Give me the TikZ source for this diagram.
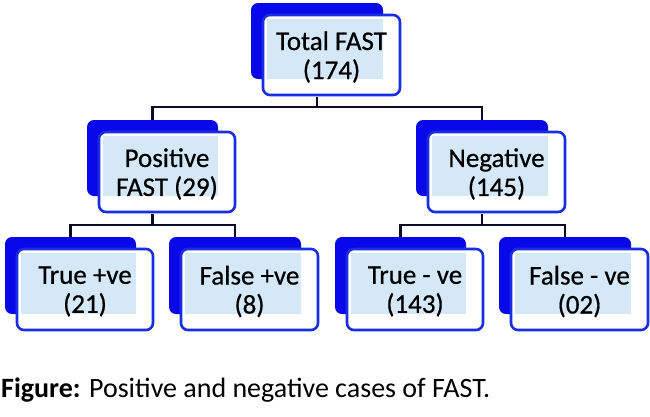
\documentclass[tikz,border=0pt]{standalone}
\usepackage{fontspec}
\usepackage{graphicx}
\setmainfont{Carlito}
\newfontfamily\boxfont{Carlito}[FakeBold=0.6]
\definecolor{backblue}{RGB}{8,8,232}
\definecolor{frontblue}{RGB}{25,45,225}
\definecolor{lightblue}{RGB}{213,232,248}
\definecolor{connblack}{RGB}{12,12,40}
\tikzset{
  backbox/.style={fill=backblue, rounded corners=7pt, draw=none, inner sep=0pt},
  frontframe/.style={fill=white, draw=frontblue, line width=2.6pt, rounded corners=7pt},
  overlap/.style={fill=lightblue},
  boxlabel/.style={font=\boxfont\fontsize{27}{29}\selectfont, align=center, text=black, inner sep=0pt},
  conn/.style={draw=connblack, line width=2.8pt},
}
% #1 name, #2 x1, #3 y1, #4 x2, #5 y2 (front rectangle), #6 text
\newcommand\fastbox[6]{%
  \node[backbox, minimum width={#4-#2-5}, minimum height={#5-#3-4}] (#1b) at ({(#2+#4-29)/2},{(#3+#5-28)/2}) {};
  \draw[frontframe] (#2,#3) rectangle (#4,#5);
  \fill[overlap] ({#2+4},{#3+4}) rectangle ({#4-17},{#5-16});
  \node[boxlabel, minimum width={#4-#2}, minimum height={#5-#3}] (#1) at ({(#2+#4)/2},{(#3+#5)/2+2}) {#6};
}
\begin{document}
\begin{tikzpicture}[x=1pt, y=-1pt]
\useasboundingbox (0,0) rectangle (650,416);
\fastbox{t}{263}{15}{400}{95}{Total FAST\\(174)}
\fastbox{p}{99}{132}{235}{212}{Positive\\FAST (29)}
\fastbox{n}{428}{132}{565}{212}{Negative\\(145)}
\fastbox{tp}{17}{249}{153}{330}{True +ve\\(21)}
\fastbox{fp}{181}{249}{318}{330}{False +ve\\(8)}
\fastbox{tn}{347}{249}{483}{330}{True - ve\\(143)}
\fastbox{fn}{511}{249}{648}{330}{False - ve\\(02)}
\coordinate (bus1) at (0,107);
\coordinate (bus2) at (0,225);
\draw[conn] (tb |- t.south) -- (tb |- bus1) -| (pb.north);
\draw[conn] (tb |- bus1) -| (nb.north);
\draw[conn] (pb |- p.south) -- (pb |- bus2) -| (tpb.north);
\draw[conn] (pb |- bus2) -| (fpb.north);
\draw[conn] (nb |- n.south) -- (nb |- bus2) -| (tnb.north);
\draw[conn] (nb |- bus2) -| (fnb.north);
\node[anchor=base west, inner sep=0pt] (cap) at (1,397) {\scalebox{1.0}[1]{\fontsize{28}{28}\selectfont\textbf{Figure:} Positive and negative cases of FAST.}};
\end{tikzpicture}
\end{document}
